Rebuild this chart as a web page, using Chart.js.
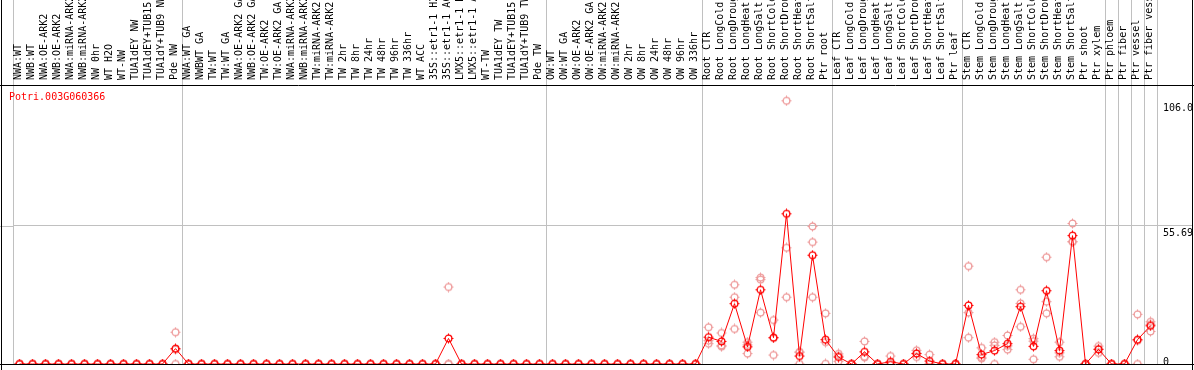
<!DOCTYPE html>
<html><head><meta charset="utf-8">
<script src="https://cdn.jsdelivr.net/npm/chart.js@4/dist/chart.umd.min.js"></script>
<style>
html,body{margin:0;padding:0;background:#fff;}
#wrap{position:relative;width:1194px;height:370px;overflow:hidden;}
#title{position:absolute;left:9px;top:92px;font-family:'DejaVu Sans Mono',monospace;font-size:10px;line-height:10px;color:#ff0000;white-space:nowrap;}
</style></head><body>
<div id="wrap"><canvas id="c" width="1194" height="370"></canvas><div id="title">Potri.003G060366</div></div>
<script>
const categories = [
"NWA:WT","NWB:WT","NWA:OE-ARK2","NWB:OE-ARK2","NWA:miRNA-ARK2","NWB:miRNA-ARK2","NW 0hr","WT H2O","WT-NW","TUA1dEY NW","TUA1dEY+TUB15 NW","TUA1dY+TUB9 NW","Pde NW",
"NWA:WT GA","NWBWT GA","TW:WT","TW:WT GA","NWA:OE-ARK2 GA","NWB:OE-ARK2 GA","TW:OE-ARK2","TW:OE-ARK2 GA","NWA:miRNA-ARK2","NWB:miRNA-ARK2","TW:miRNA-ARK2","TW:miRNA-ARK2",
"TW 2hr","TW 8hr","TW 24hr","TW 48hr","TW 96hr","TW 336hr","WT ACC","35S::etr1-1 H2O","35S::etr1-1 ACC","LMX5::etr1-1 H2O","LMX5::etr1-1 ACC","WT-TW","TUA1dEY TW","TUA1dEY+TUB15 TW","TUA1dY+TUB9 TW","Pde TW",
"OW:WT","OW:WT GA","OW:OE-ARK2","OW:OE-ARK2 GA","OW:miRNA-ARK2","OW:miRNA-ARK2","OW 2hr","OW 8hr","OW 24hr","OW 48hr","OW 96hr","OW 336hr",
"Root CTR","Root LongCold","Root LongDrought","Root LongHeat","Root LongSalt","Root ShortCold","Root ShortDrought","Root ShortHeat","Root ShortSalt","Ptr root",
"Leaf CTR","Leaf LongCold","Leaf LongDrought","Leaf LongHeat","Leaf LongSalt","Leaf ShortCold","Leaf ShortDrought","Leaf ShortHeat","Leaf ShortSalt","Ptr leaf",
"Stem CTR","Stem LongCold","Stem LongDrought","Stem LongHeat","Stem LongSalt","Stem ShortCold","Stem ShortDrought","Stem ShortHeat","Stem ShortSalt","Ptr shoot",
"Ptr xylem","Ptr phloem","Ptr fiber","Ptr vessel","Ptr fiber vessel"];

const meanValues = [
0,0,0,0,0,0,0,0,0,0,0,0,
6.2,
0,0,0,0,0,0,0,0,0,0,0,0,0,0,0,0,0,0,0,0,
10.3,
0,0,0,0,0,0,0,0,0,0,0,0,0,0,0,0,0,0,0,
10.8,9.1,24.3,6.9,29.9,10.6,60.5,3.2,43.8,9.8,
2.8,0,4.9,0,0.9,0,4.2,1.2,0,0,
23.6,3.8,5.4,8.2,23.1,7.1,29.5,5.4,51.7,0,
5.9,0,0,9.8,15.4];

const rep1 = [
0,0,0,0,0,0,0,0,0,0,0,0,
12.8,
0,0,0,0,0,0,0,0,0,0,0,0,0,0,0,0,0,0,0,0,
31.0,
0,0,0,0,0,0,0,0,0,0,0,0,0,0,0,0,0,0,0,
14.8,12.5,31.9,8.8,34.8,17.7,106.0,4.9,55.4,20.4,
4.1,0,9.1,0,3.2,0,5.5,3.8,0,0,
39.4,6.5,8.8,11.5,29.9,10.2,43.0,8.8,56.6,0,
7.2,0,0,20.0,17.0];

const rep2 = [
0,0,0,0,0,0,0,0,0,0,0,0,
5.8,
0,0,0,0,0,0,0,0,0,0,0,0,0,0,0,0,0,0,0,0,
0,
0,0,0,0,0,0,0,0,0,0,0,0,0,0,0,0,0,0,0,
9.4,7.5,26.9,7.7,34.0,10.5,46.8,4.7,49.1,8.8,
3.2,0,2.9,0,0,0,4.3,0,0,0,
20.7,2.7,7.5,7.3,24.4,9.2,25.1,4.5,49.3,0,
6.0,0,0,9.4,16.0];

const rep3 = [
0,0,0,0,0,0,0,0,0,0,0,0,
0,
0,0,0,0,0,0,0,0,0,0,0,0,0,0,0,0,0,0,0,0,
0,
0,0,0,0,0,0,0,0,0,0,0,0,0,0,0,0,0,0,0,
8.2,7.0,14.1,4.2,20.7,3.6,26.9,0,26.9,0.1,
1.1,0,2.7,0,0,0,2.8,0,0,0,
10.6,2.2,0,5.8,15.0,1.9,20.4,2.9,49.2,0,
4.5,0,0,0,13.1];

const yTicks = [0, 55.69, 106.0];
const yTickLabels = ["0", "55.69", "106.0"];
const yMax = 112.36;
const groupBoundaries = [0, 13, 41, 53, 63, 73, 84, 85, 86, 87, 88];

function makeMarker(color) {
  const c = document.createElement('canvas');
  c.width = 11; c.height = 11;
  const g = c.getContext('2d');
  g.strokeStyle = color;
  g.lineWidth = 1.3;
  g.beginPath(); g.arc(5.5, 5.5, 3.4, 0, Math.PI * 2); g.stroke();
  g.lineWidth = 1;
  g.beginPath();
  g.moveTo(5.5, 0.5); g.lineTo(5.5, 2.5);
  g.moveTo(5.5, 8.5); g.lineTo(5.5, 10.5);
  g.moveTo(0.5, 5.5); g.lineTo(2.5, 5.5);
  g.moveTo(8.5, 5.5); g.lineTo(10.5, 5.5);
  g.stroke();
  return c;
}
const redMarker = makeMarker('#ff0000');
const pinkMarker = makeMarker('#ee9a9a');

const FONT = {family: "'DejaVu Sans Mono', monospace", size: 10, lineHeight: 1};

const framePlugin = {
  id: 'frame',
  afterDraw(chart) {
    const {ctx, chartArea: a, width, height, scales} = chart;
    ctx.save();
    ctx.lineWidth = 1;
    ctx.strokeStyle = '#c0c0c0';
    const gy = Math.round(scales.y.getPixelForValue(yTicks[1])) + 0.5;
    ctx.beginPath(); ctx.moveTo(0, gy); ctx.lineTo(a.left, gy); ctx.stroke();
    ctx.strokeStyle = '#000';
    ctx.beginPath();
    ctx.moveTo(0, Math.round(a.top) + 0.5); ctx.lineTo(width, Math.round(a.top) + 0.5);
    ctx.moveTo(0, Math.round(a.bottom) + 0.5); ctx.lineTo(width, Math.round(a.bottom) + 0.5);
    ctx.moveTo(1.5, 0); ctx.lineTo(1.5, height);
    ctx.moveTo(width - 1.5, 0); ctx.lineTo(width - 1.5, height);
    ctx.stroke();
    ctx.restore();
  }
};

function repDataset(arr) {
  return {
    data: arr, showLine: false, borderColor: '#ee9a9a', backgroundColor: '#ee9a9a',
    pointStyle: pinkMarker, pointRadius: 5, pointHoverRadius: 5
  };
}

new Chart(document.getElementById('c'), {
  type: 'line',
  data: {
    labels: categories,
    datasets: [
      {
        data: meanValues, borderColor: '#ff0000', backgroundColor: '#ff0000', borderWidth: 1,
        tension: 0, pointStyle: redMarker, pointRadius: 5, pointHoverRadius: 5
      },
      repDataset(rep1), repDataset(rep2), repDataset(rep3)
    ]
  },
  options: {
    responsive: false,
    animation: false,
    devicePixelRatio: 1,
    layout: {padding: {left: 13, right: 0, top: 0, bottom: 1}},
    plugins: {legend: {display: false}, tooltip: {enabled: false}, title: {display: false}},
    scales: {
      x: {
        type: 'category', position: 'top', offset: true,
        grid: {
          offset: true, drawTicks: true, tickLength: 85, lineWidth: 1,
          color: (ctx) => (ctx.index === undefined || groupBoundaries.includes(ctx.index)) ? '#c0c0c0' : 'rgba(0,0,0,0)'
        },
        border: {display: false},
        ticks: {autoSkip: false, minRotation: 90, maxRotation: 90, padding: -80, labelOffset: 9, color: '#000', font: FONT},
        afterFit: (s) => { s.height = 85; s.paddingLeft = 0; s.paddingRight = 0; }
      },
      y: {
        type: 'linear', position: 'right', min: 0, max: yMax,
        afterBuildTicks: (s) => { s.ticks = yTicks.map(v => ({value: v})); },
        grid: {
          drawTicks: true, tickLength: 35, lineWidth: 1,
          color: (ctx) => (ctx.tick && ctx.tick.value === yTicks[1]) ? '#c0c0c0' : 'rgba(0,0,0,0)'
        },
        border: {display: false},
        ticks: {
          padding: -29, labelOffset: 3, color: '#000', font: FONT, crossAlign: 'near',
          callback: (v, i) => i === 0 ? [yTickLabels[i], ''] : ['', yTickLabels[i]]
        },
        afterFit: (s) => { s.width = 37; s.paddingTop = 0; s.paddingBottom = 0; }
      }
    }
  },
  plugins: [framePlugin]
});
</script>
</body></html>
